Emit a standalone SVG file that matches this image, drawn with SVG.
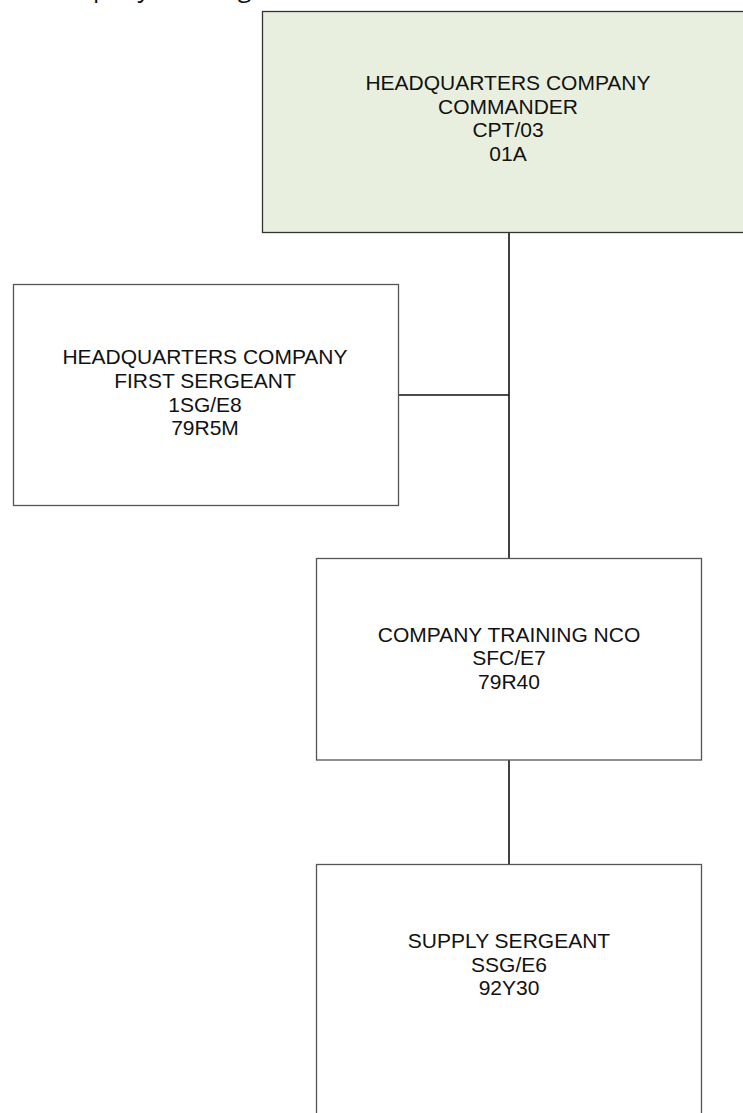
<svg xmlns="http://www.w3.org/2000/svg" width="743" height="1113" viewBox="0 0 743 1113">
<style>
.box{fill:#ffffff;stroke:#555555;stroke-width:1.3}
.cmd{fill:#e9efdf;stroke:#333333;stroke-width:1.3}
.lbl{font-family:"Liberation Sans",Arial,sans-serif;font-size:21px;fill:#111111;text-anchor:middle}
.conn{stroke:#111111;stroke-width:1.6;fill:none}
.top{font-family:"Open Sans","Liberation Sans",sans-serif;font-size:25px;fill:#111111}
</style>
<rect width="743" height="1113" fill="#ffffff"/>
<text class="top" x="39" y="-3">Company Training</text>
<g id="connectors">
<line class="conn" x1="509" y1="233" x2="509" y2="558"/>
<line class="conn" x1="398" y1="395" x2="509" y2="395"/>
<line class="conn" x1="509" y1="760" x2="509" y2="864"/>
</g>
<g id="commander">
<rect class="cmd" x="262.5" y="11.5" width="494" height="221"/>
<text class="lbl" x="508" y="90">HEADQUARTERS COMPANY</text>
<text class="lbl" x="508" y="113.5">COMMANDER</text>
<text class="lbl" x="508" y="137">CPT/03</text>
<text class="lbl" x="508" y="160.5">01A</text>
</g>
<g id="first-sergeant">
<rect class="box" x="13.5" y="284.5" width="385" height="221"/>
<text class="lbl" x="205" y="363.5">HEADQUARTERS COMPANY</text>
<text class="lbl" x="205" y="387.5">FIRST SERGEANT</text>
<text class="lbl" x="205" y="411.5">1SG/E8</text>
<text class="lbl" x="205" y="435">79R5M</text>
</g>
<g id="training-nco">
<rect class="box" x="316.5" y="558.5" width="385" height="201.5"/>
<text class="lbl" x="509" y="641.5">COMPANY TRAINING NCO</text>
<text class="lbl" x="509" y="665">SFC/E7</text>
<text class="lbl" x="509" y="689">79R40</text>
</g>
<g id="supply-sergeant">
<rect class="box" x="316.5" y="864.5" width="385" height="260"/>
<text class="lbl" x="509" y="947.5">SUPPLY SERGEANT</text>
<text class="lbl" x="509" y="971.5">SSG/E6</text>
<text class="lbl" x="509" y="995">92Y30</text>
</g>
</svg>
